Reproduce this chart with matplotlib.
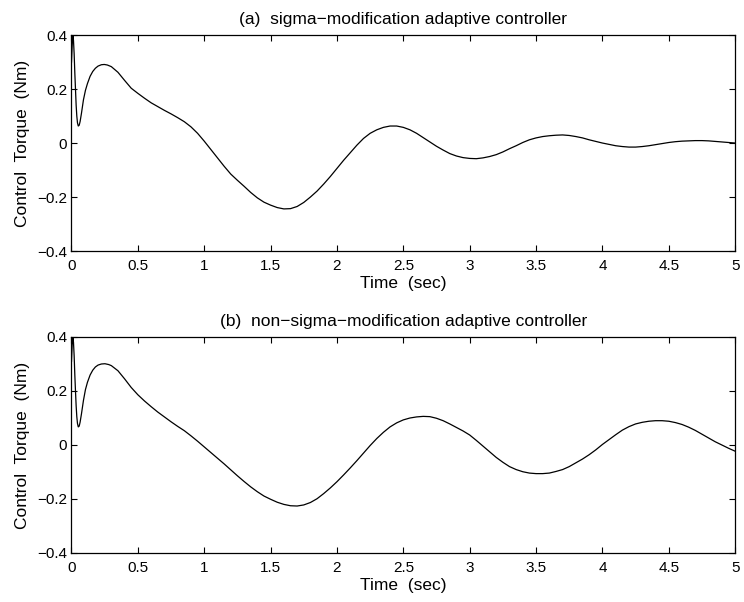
import matplotlib
matplotlib.use("Agg")
import matplotlib.pyplot as plt

plt.rcParams['font.family'] = ['Liberation Sans', 'DejaVu Sans']
plt.rcParams['font.size'] = 11

#------------------------------------------------ values
# (a) sigma-modification adaptive controller
t_a = [0.0, 0.005, 0.01, 0.015, 0.02, 0.025, 0.03, 0.035, 0.04, 0.045, 0.051, 0.058,
       0.065, 0.075, 0.09, 0.105, 0.12, 0.14, 0.16, 0.18, 0.2, 0.225, 0.247, 0.27,
       0.3, 0.35, 0.4, 0.45, 0.5, 0.55, 0.6, 0.65, 0.7, 0.75, 0.8, 0.85, 0.9, 0.95,
       1.0, 1.05, 1.1, 1.15, 1.2, 1.25, 1.3, 1.35, 1.4, 1.45, 1.5, 1.55, 1.6, 1.65,
       1.7, 1.75, 1.8, 1.85, 1.9, 1.95, 2.0, 2.05, 2.1, 2.15, 2.2, 2.25, 2.3, 2.35,
       2.4, 2.45, 2.5, 2.55, 2.6, 2.65, 2.7, 2.75, 2.8, 2.85, 2.9, 2.95, 3.0, 3.05,
       3.1, 3.15, 3.2, 3.25, 3.3, 3.35, 3.4, 3.45, 3.5, 3.55, 3.6, 3.65, 3.7, 3.75,
       3.8, 3.85, 3.9, 3.95, 4.0, 4.05, 4.1, 4.15, 4.2, 4.25, 4.3, 4.35, 4.4, 4.45,
       4.5, 4.55, 4.6, 4.65, 4.7, 4.75, 4.8, 4.85, 4.9, 4.95, 5.0]
y_a = [0.30, 0.36, 0.40, 0.38, 0.33, 0.26, 0.20, 0.14, 0.10, 0.075, 0.063, 0.066,
       0.08, 0.11, 0.16, 0.195, 0.22, 0.247, 0.265, 0.277, 0.285, 0.290, 0.291, 0.289,
       0.283, 0.262, 0.232, 0.203, 0.184, 0.166, 0.149, 0.135, 0.121, 0.108, 0.094, 0.079, 0.060, 0.036,
       0.007, -0.024, -0.055, -0.086, -0.115, -0.138, -0.160, -0.183, -0.203, -0.219, -0.230, -0.239, -0.244, -0.243,
       -0.235, -0.220, -0.200, -0.178, -0.152, -0.124, -0.094, -0.064, -0.036, -0.008, 0.017, 0.036, 0.049, 0.058,
       0.063, 0.063, 0.058, 0.049, 0.036, 0.020, 0.004, -0.012, -0.026, -0.039, -0.048, -0.054, -0.057, -0.058,
       -0.055, -0.050, -0.043, -0.033, -0.021, -0.010, 0.002, 0.012, 0.019, 0.024, 0.027, 0.029, 0.030, 0.028,
       0.024, 0.019, 0.012, 0.006, 0.000, -0.005, -0.010, -0.013, -0.015, -0.015, -0.013, -0.010, -0.006, -0.002,
       0.002, 0.005, 0.007, 0.008, 0.009, 0.009, 0.008, 0.006, 0.004, 0.002, 0.000]

# (b) non-sigma-modification adaptive controller
t_b = [0.0, 0.005, 0.01, 0.015, 0.02, 0.025, 0.03, 0.035, 0.04, 0.045, 0.051, 0.058,
       0.065, 0.075, 0.09, 0.105, 0.12, 0.14, 0.16, 0.18, 0.2, 0.225, 0.252, 0.28,
       0.3, 0.35, 0.4, 0.45, 0.5, 0.55, 0.6, 0.65, 0.7, 0.75, 0.8, 0.85, 0.9, 0.95,
       1.0, 1.05, 1.1, 1.15, 1.2, 1.25, 1.3, 1.35, 1.4, 1.45, 1.5, 1.55, 1.6, 1.65,
       1.7, 1.75, 1.8, 1.85, 1.9, 1.95, 2.0, 2.05, 2.1, 2.15, 2.2, 2.25, 2.3, 2.35,
       2.4, 2.45, 2.5, 2.55, 2.6, 2.65, 2.7, 2.75, 2.8, 2.85, 2.9, 2.95, 3.0, 3.05,
       3.1, 3.15, 3.2, 3.25, 3.3, 3.35, 3.4, 3.45, 3.5, 3.55, 3.6, 3.65, 3.7, 3.75,
       3.8, 3.85, 3.9, 3.95, 4.0, 4.05, 4.1, 4.15, 4.2, 4.25, 4.3, 4.35, 4.4, 4.45,
       4.5, 4.55, 4.6, 4.65, 4.7, 4.75, 4.8, 4.85, 4.9, 4.95, 5.0]
y_b = [0.31, 0.37, 0.40, 0.38, 0.33, 0.26, 0.20, 0.145, 0.105, 0.08, 0.067, 0.07,
       0.085, 0.115, 0.165, 0.205, 0.232, 0.259, 0.277, 0.289, 0.296, 0.300, 0.301, 0.298,
       0.294, 0.275, 0.245, 0.213, 0.186, 0.163, 0.142, 0.122, 0.104, 0.086, 0.069, 0.053, 0.034, 0.014,
       -0.007, -0.028, -0.049, -0.070, -0.092, -0.114, -0.135, -0.155, -0.173, -0.189, -0.201, -0.212, -0.220, -0.225,
       -0.226, -0.222, -0.213, -0.199, -0.180, -0.159, -0.136, -0.111, -0.085, -0.058, -0.030, -0.002, 0.024, 0.047,
       0.067, 0.082, 0.093, 0.100, 0.104, 0.106, 0.105, 0.099, 0.090, 0.078, 0.065, 0.052, 0.037, 0.017,
       -0.004, -0.025, -0.046, -0.064, -0.080, -0.091, -0.099, -0.104, -0.106, -0.106, -0.104, -0.098, -0.091, -0.080,
       -0.066, -0.052, -0.036, -0.018, 0.002, 0.020, 0.038, 0.055, 0.068, 0.078, 0.084, 0.088, 0.090, 0.090,
       0.088, 0.083, 0.076, 0.066, 0.054, 0.040, 0.026, 0.012, 0.000, -0.012, -0.023]

titles = ['(a)  sigma\u2212modification adaptive controller',
          '(b)  non\u2212sigma\u2212modification adaptive controller']
xticks = [0, 0.5, 1, 1.5, 2, 2.5, 3, 3.5, 4, 4.5, 5]
xticklabels = ['0', '0.5', '1', '1.5', '2', '2.5', '3', '3.5', '4', '4.5', '5']
yticks = [-0.4, -0.2, 0, 0.2, 0.4]
yticklabels = ['\u22120.4', '\u22120.2', '0', '0.2', '0.4']

#------------------------------------------------------------------ plotting
fig = plt.figure(figsize=(7.44, 6.02), dpi=100)
ax_a = fig.add_axes([0.0961, 0.583, 0.892, 0.3588])
ax_b = fig.add_axes([0.0961, 0.0814, 0.892, 0.3588])

for ax, t, y, title in [(ax_a, t_a, y_a, titles[0]), (ax_b, t_b, y_b, titles[1])]:
    ax.plot(t, y, color='k', lw=0.9)
    ax.set_xlim(0, 5)
    ax.set_ylim(-0.4, 0.4)
    ax.set_xticks(xticks)
    ax.set_xticklabels(xticklabels)
    ax.set_yticks(yticks)
    ax.set_yticklabels(yticklabels)
    ax.tick_params(direction='in', top=True, right=True, length=4, width=0.8)
    ax.tick_params(axis='x', pad=6)
    ax.tick_params(axis='y', pad=3)
    for s in ax.spines.values():
        s.set_linewidth(0.9)
    ax.set_title(title, fontsize=12.5, pad=8)
    ax.set_xlabel('Time  (sec)', fontsize=12.5, labelpad=2)
    ax.set_ylabel('Control  Torque  (Nm)', fontsize=12.5, labelpad=5)

fig.savefig('out.png', dpi=100)
